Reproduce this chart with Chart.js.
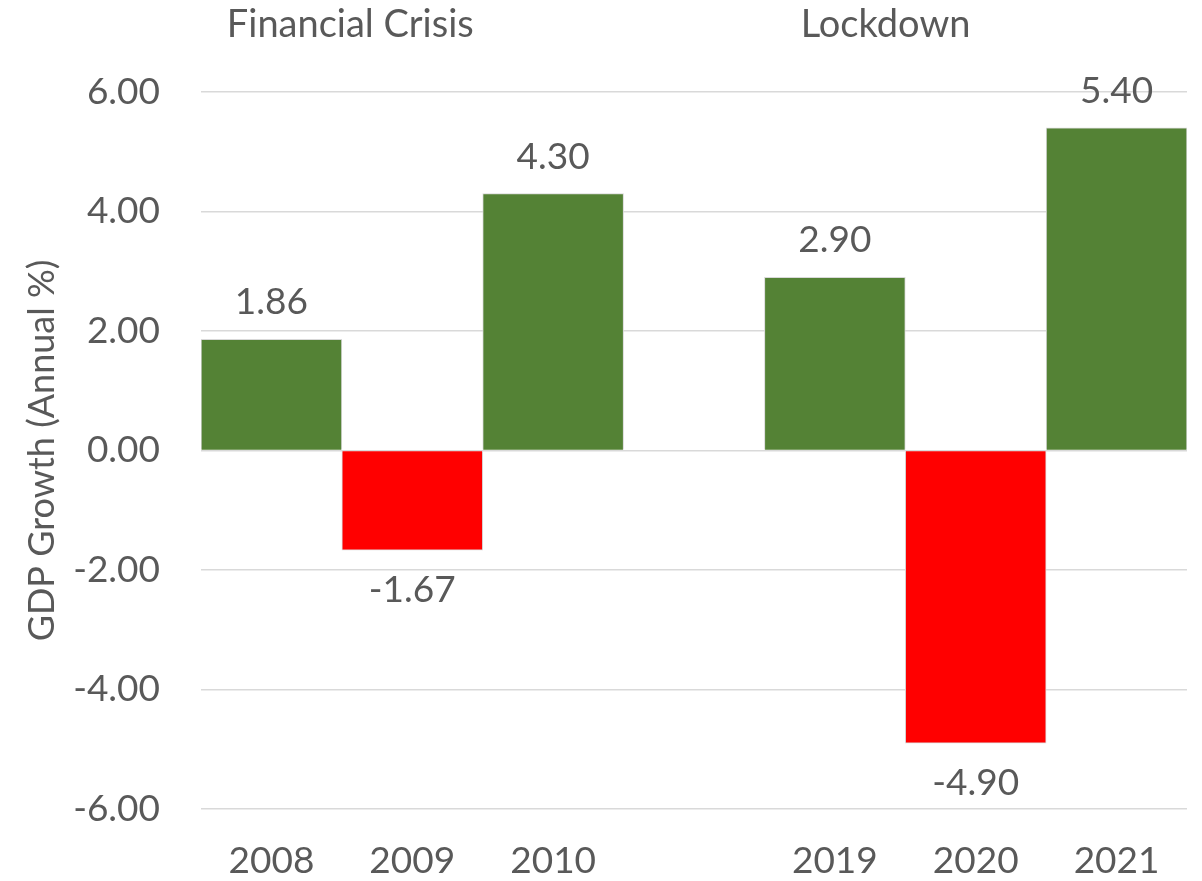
<!DOCTYPE html>
<html>
<head>
<meta charset="utf-8">
<script src="https://cdn.jsdelivr.net/npm/chart.js@4"></script>
<style>
  html, body { margin: 0; padding: 0; background: #fff; }
  #wrap { width: 1202px; height: 881px; }
</style>
</head>
<body>
<div id="wrap"><canvas id="gdpChart"></canvas></div>
<script>
const years = ['2008', '2009', '2010', '', '2019', '2020', '2021'];
const growth = [1.86, -1.67, 4.30, null, 2.90, -4.90, 5.40];
const yTicks = [-6, -4, -2, 0, 2, 4, 6];
const periods = ['Financial Crisis', 'Lockdown'];

const textGrey = '#595959';
const fontName = 'Lato, "Open Sans", sans-serif';

const barColors = growth.map(v => v < 0 ? '#ff0000' : '#548235');

// value labels above / below the bars, plus the two period headings
const labelsPlugin = {
  id: 'labelsPlugin',
  afterDatasetsDraw(chart) {
    const ctx = chart.ctx;
    const meta = chart.getDatasetMeta(0);
    ctx.save();
    ctx.fillStyle = textGrey;
    ctx.font = '37px ' + fontName;
    ctx.textAlign = 'center';
    ctx.textBaseline = 'middle';
    meta.data.forEach((bar, i) => {
      const v = growth[i];
      if (v === null) return;
      const y = v >= 0 ? bar.y - 37 : bar.y + 40;
      ctx.fillText(v.toFixed(2), bar.x, y);
    });
    const xs = chart.scales.x;
    ctx.font = '38px ' + fontName;
    const spots = [0.56, 4.36];
    periods.forEach((t, i) => {
      ctx.fillText(t, xs.getPixelForValue(spots[i]), 25);
    });
    ctx.restore();
  }
};

new Chart(document.getElementById('gdpChart'), {
  type: 'bar',
  data: {
    labels: years,
    datasets: [{
      data: growth,
      backgroundColor: barColors,
      borderColor: '#d9d9d9',
      borderWidth: 1,
      barPercentage: 1,
      categoryPercentage: 1
    }]
  },
  options: {
    responsive: true,
    maintainAspectRatio: false,
    animation: false,
    layout: {
      padding: { top: 92, right: 15, bottom: 0, left: 0 }
    },
    plugins: {
      legend: { display: false },
      tooltip: { enabled: false }
    },
    scales: {
      x: {
        grid: { display: false, drawTicks: false },
        border: { display: false },
        afterFit(scale) {
          scale.height = 72;
        },
        ticks: {
          color: textGrey,
          font: { family: fontName, size: 37 },
          padding: 30,
          maxRotation: 0,
          autoSkip: false
        }
      },
      y: {
        min: -6,
        max: 6,
        afterBuildTicks(scale) {
          scale.ticks = yTicks.map(v => ({ value: v }));
        },
        afterFit(scale) {
          scale.width = 201;
        },
        grid: { color: '#d9d9d9', lineWidth: 1.5, drawTicks: false },
        border: { display: false },
        ticks: {
          color: textGrey,
          font: { family: fontName, size: 37 },
          padding: 41,
          callback: v => v.toFixed(2)
        },
        title: {
          display: true,
          text: 'GDP Growth (Annual %)',
          color: textGrey,
          font: { family: fontName, size: 36 },
          padding: { top: 21, bottom: 0 }
        }
      }
    }
  },
  plugins: [labelsPlugin]
});
</script>
</body>
</html>
